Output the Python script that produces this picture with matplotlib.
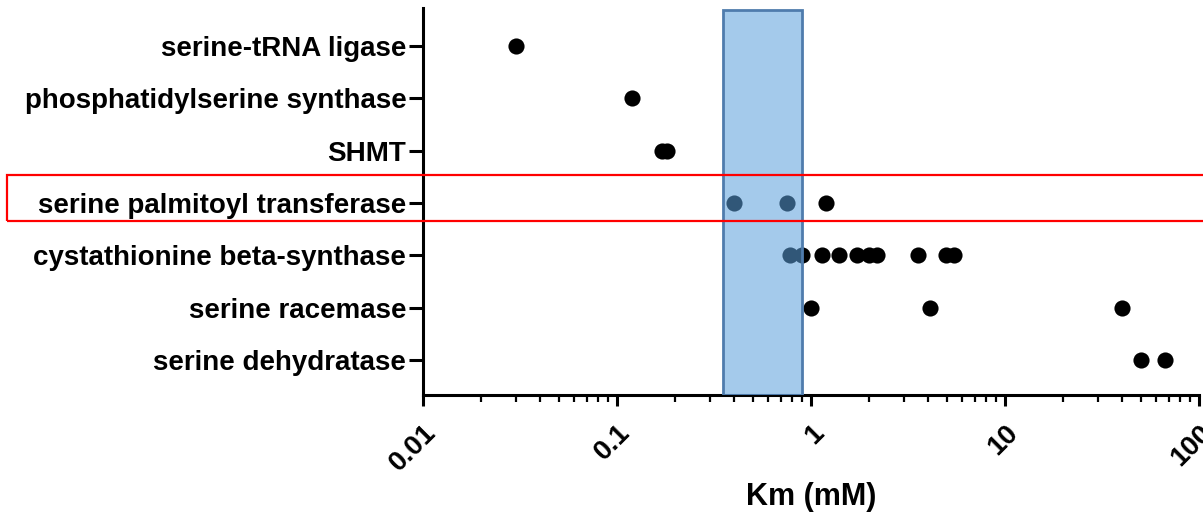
import numpy as np
import matplotlib
matplotlib.use("Agg")
import matplotlib.pyplot as plt
import matplotlib.transforms as mtransforms
from matplotlib.patches import Rectangle
from matplotlib.ticker import LogLocator, FixedLocator, NullFormatter

plt.rcParams['font.family'] = ['Liberation Sans', 'DejaVu Sans']
plt.rcParams['font.weight'] = 'bold'

enzymes = ["serine-tRNA ligase", "phosphatidylserine synthase", "SHMT",
           "serine palmitoyl transferase", "cystathionine beta-synthase",
           "serine racemase", "serine dehydratase"]

km_trna = [0.03]
km_pss = [0.12]
km_shmt = [0.17, 0.18]
km_spt = [0.4, 0.75, 1.2]
km_cbs = [0.78, 0.9, 1.14, 1.39, 1.73, 2.0, 2.2, 3.57, 4.95, 5.45]
km_racemase = [1.0, 4.1, 40.0]
km_dehydratase = [50.0, 67.0]

km_values = [km_trna, km_pss, km_shmt, km_spt, km_cbs, km_racemase, km_dehydratase]

# physiological serine range shaded on the plot
serine_low, serine_high = 0.35, 0.9

xticks = [0.01, 0.1, 1, 10, 100]
xtick_labels = ["0.01", "0.1", "1", "10", "100"]

fig = plt.figure(figsize=(12.03, 5.16), dpi=100)
ax = fig.add_axes([423 / 1203, 1 - 395 / 516, 776 / 1203, 387 / 516])

for i, vals in enumerate(km_values):
    ax.scatter(vals, [i + 1] * len(vals), s=135, color='black', zorder=2,
               linewidths=0)

ax.axvspan(serine_low, serine_high, ymax=385 / 387, facecolor='#5a9fdc',
           alpha=0.55, edgecolor='none', zorder=3)
ax.axvspan(serine_low, serine_high, ymax=385 / 387, facecolor='none',
           edgecolor='#4f7cad', linewidth=2, zorder=4)

ax.set_xscale('log')
ax.set_xlim(0.01, 100)
ax.set_ylim(7.67, 0.27)
ax.set_yticks(range(1, len(enzymes) + 1))
ax.set_yticklabels(enzymes, fontsize=20, fontweight='bold')

ax.xaxis.set_major_locator(FixedLocator(xticks))
ax.set_xticklabels(xtick_labels, fontsize=20, fontweight='bold',
                   rotation=45, ha='right', va='top', rotation_mode='anchor')
shift = mtransforms.ScaledTranslation(-6 / 100, 0, fig.dpi_scale_trans)
for lab in ax.get_xticklabels():
    lab.set_transform(lab.get_transform() + shift)
ax.xaxis.set_minor_locator(LogLocator(base=10, subs=np.arange(2, 10)))
ax.xaxis.set_minor_formatter(NullFormatter())

for side in ['top', 'right']:
    ax.spines[side].set_visible(False)
for side in ['left', 'bottom']:
    ax.spines[side].set_linewidth(2.2)

ax.tick_params(axis='y', length=10, width=2.2, pad=2)
ax.tick_params(axis='x', which='major', length=8, width=2.2, pad=10)
ax.tick_params(axis='x', which='minor', length=5, width=1.6)

ax.set_xlabel("Km (mM)", fontsize=22, fontweight='bold', labelpad=4)

# red highlight box around the serine palmitoyl transferase row
fig.patches.append(Rectangle((7 / 1203, 1 - 221 / 516), 1.0, 46 / 516,
                             transform=fig.transFigure, fill=False,
                             edgecolor='#ff0000', linewidth=1.6))

fig.savefig("out.png", dpi=100)
